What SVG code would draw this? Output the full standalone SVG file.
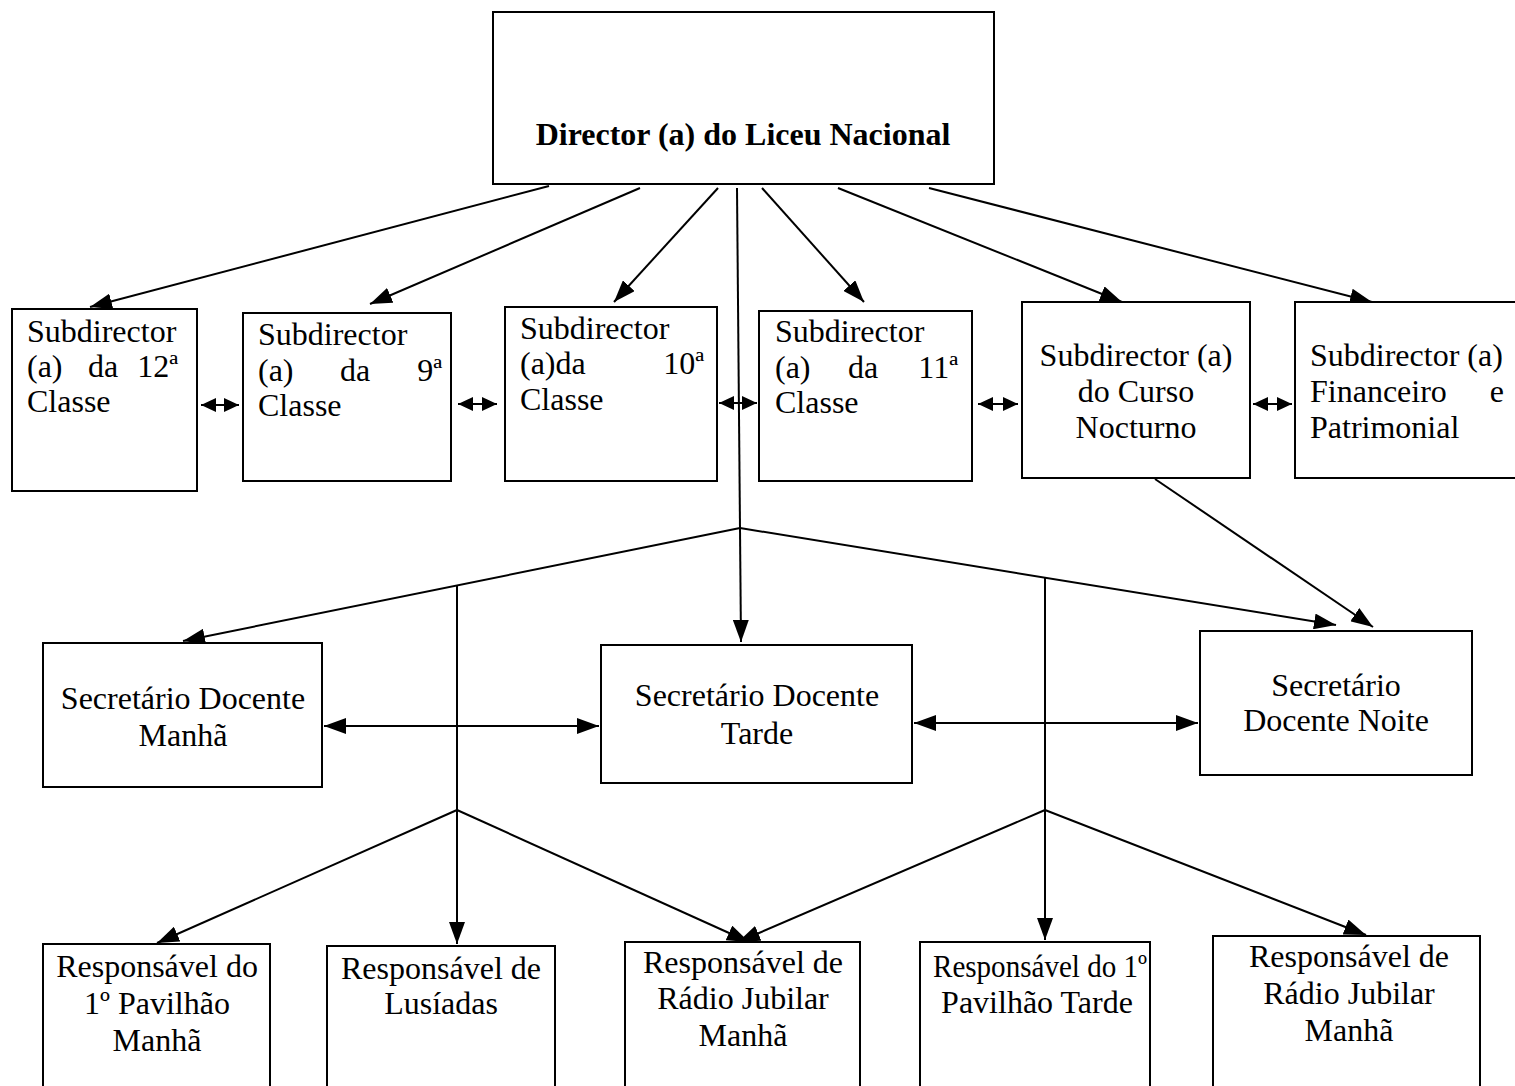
<svg xmlns="http://www.w3.org/2000/svg" width="1515" height="1086" viewBox="0 0 1515 1086">
<style>
.box{fill:#fff;stroke:#000;stroke-width:2}
.t{font-family:'Liberation Serif',Tinos,'Times New Roman',Times,'DejaVu Serif',serif;font-size:32px;fill:#000}
.c{text-anchor:middle}
.e{text-anchor:end}
.b{font-weight:bold}
.ln{fill:none;stroke:#000;stroke-width:2}
</style>
<defs>
<marker id="ah" viewBox="0 0 22 16" refX="22" refY="8" markerWidth="22" markerHeight="16" markerUnits="userSpaceOnUse" orient="auto-start-reverse">
<path d="M0,0 L22,8 L0,16 z" fill="#000"/>
</marker>
<marker id="sh" viewBox="0 0 15 14" refX="15" refY="7" markerWidth="15" markerHeight="14" markerUnits="userSpaceOnUse" orient="auto-start-reverse">
<path d="M0,0 L15,7 L0,14 z" fill="#000"/>
</marker>
</defs>
<rect width="1515" height="1086" fill="#fff"/>

<g id="connectors">
<line class="ln" x1="549" y1="186" x2="90" y2="307" marker-end="url(#ah)"/>
<line class="ln" x1="640" y1="188" x2="370" y2="304" marker-end="url(#ah)"/>
<line class="ln" x1="718" y1="188" x2="614" y2="302" marker-end="url(#ah)"/>
<line class="ln" x1="762" y1="188" x2="864" y2="302" marker-end="url(#ah)"/>
<line class="ln" x1="838" y1="188" x2="1122" y2="302" marker-end="url(#ah)"/>
<line class="ln" x1="929" y1="188" x2="1372" y2="302" marker-end="url(#ah)"/>
<line class="ln" x1="737" y1="188" x2="741" y2="642" marker-end="url(#ah)"/>
<line class="ln" x1="740" y1="528" x2="183" y2="641" marker-end="url(#ah)"/>
<line class="ln" x1="740" y1="528" x2="1336" y2="625" marker-end="url(#ah)"/>
<line class="ln" x1="1155" y1="479" x2="1373" y2="627" marker-end="url(#ah)"/>
<line class="ln" x1="457" y1="585" x2="457" y2="944" marker-end="url(#ah)"/>
<line class="ln" x1="1045" y1="578" x2="1045" y2="940" marker-end="url(#ah)"/>
<line class="ln" x1="457" y1="810" x2="157" y2="943" marker-end="url(#ah)"/>
<line class="ln" x1="457" y1="810" x2="749" y2="942" marker-end="url(#ah)"/>
<line class="ln" x1="1045" y1="810" x2="738" y2="942" marker-end="url(#ah)"/>
<line class="ln" x1="1045" y1="810" x2="1366" y2="935" marker-end="url(#ah)"/>
<line class="ln" x1="324" y1="726" x2="599" y2="726" marker-start="url(#ah)" marker-end="url(#ah)"/>
<line class="ln" x1="914" y1="723" x2="1198" y2="723" marker-start="url(#ah)" marker-end="url(#ah)"/>
<line class="ln" x1="201" y1="405" x2="239" y2="405" marker-start="url(#sh)" marker-end="url(#sh)"/>
<line class="ln" x1="458" y1="404" x2="497" y2="404" marker-start="url(#sh)" marker-end="url(#sh)"/>
<line class="ln" x1="719" y1="403" x2="757" y2="403" marker-start="url(#sh)" marker-end="url(#sh)"/>
<line class="ln" x1="978" y1="404" x2="1018" y2="404" marker-start="url(#sh)" marker-end="url(#sh)"/>
<line class="ln" x1="1253" y1="404" x2="1292" y2="404" marker-start="url(#sh)" marker-end="url(#sh)"/>
</g>

<g id="director">
<rect class="box" x="493" y="12" width="501" height="172"/>
<text class="t c b" x="743" y="145">Director (a) do Liceu Nacional</text>
</g>

<g id="sub12">
<rect class="box" x="12" y="309" width="185" height="182"/>
<text class="t" x="27" y="342">Subdirector</text>
<text class="t" x="27" y="377">(a)</text><text class="t c" x="103" y="377">da</text><text class="t e" x="178" y="377">12ª</text>
<text class="t" x="27" y="412">Classe</text>
</g>
<g id="sub9">
<rect class="box" x="243" y="313" width="208" height="168"/>
<text class="t" x="258" y="345">Subdirector</text>
<text class="t" x="258" y="381">(a)</text><text class="t c" x="355" y="381">da</text><text class="t e" x="442" y="381">9ª</text>
<text class="t" x="258" y="416">Classe</text>
</g>
<g id="sub10">
<rect class="box" x="505" y="307" width="212" height="174"/>
<text class="t" x="520" y="339">Subdirector</text>
<text class="t" x="520" y="374">(a)da</text><text class="t e" x="704" y="374">10ª</text>
<text class="t" x="520" y="410">Classe</text>
</g>
<g id="sub11">
<rect class="box" x="759" y="311" width="213" height="170"/>
<text class="t" x="775" y="342">Subdirector</text>
<text class="t" x="775" y="378">(a)</text><text class="t c" x="863" y="378">da</text><text class="t e" x="958" y="378">11ª</text>
<text class="t" x="775" y="413">Classe</text>
</g>
<g id="subNocturno">
<rect class="box" x="1022" y="302" width="228" height="176"/>
<text class="t c" x="1136" y="366">Subdirector (a)</text>
<text class="t c" x="1136" y="402">do Curso</text>
<text class="t c" x="1136" y="438">Nocturno</text>
</g>
<g id="subFinanceiro">
<rect class="box" x="1295" y="302" width="230" height="176"/>
<text class="t" x="1310" y="366">Subdirector (a)</text>
<text class="t" x="1310" y="402">Financeiro</text><text class="t e" x="1504" y="402">e</text>
<text class="t" x="1310" y="438">Patrimonial</text>
</g>

<g id="secManha">
<rect class="box" x="43" y="643" width="279" height="144"/>
<text class="t c" x="183" y="709">Secretário Docente</text>
<text class="t c" x="183" y="746">Manhã</text>
</g>
<g id="secTarde">
<rect class="box" x="601" y="645" width="311" height="138"/>
<text class="t c" x="757" y="706">Secretário Docente</text>
<text class="t c" x="757" y="744">Tarde</text>
</g>
<g id="secNoite">
<rect class="box" x="1200" y="631" width="272" height="144"/>
<text class="t c" x="1336" y="696">Secretário</text>
<text class="t c" x="1336" y="731">Docente Noite</text>
</g>

<g id="resp1">
<rect class="box" x="43" y="944" width="227" height="160"/>
<text class="t c" x="157" y="977">Responsável do</text>
<text class="t c" x="157" y="1014">1º Pavilhão</text>
<text class="t c" x="157" y="1051">Manhã</text>
</g>
<g id="resp2">
<rect class="box" x="327" y="946" width="228" height="160"/>
<text class="t c" x="441" y="979">Responsável de</text>
<text class="t c" x="441" y="1014">Lusíadas</text>
</g>
<g id="resp3">
<rect class="box" x="625" y="942" width="235" height="160"/>
<text class="t c" x="743" y="973">Responsável de</text>
<text class="t c" x="743" y="1009">Rádio Jubilar</text>
<text class="t c" x="743" y="1046">Manhã</text>
</g>
<g id="resp4">
<rect class="box" x="920" y="942" width="230" height="160"/>
<text class="t" x="933" y="977" textLength="214" lengthAdjust="spacingAndGlyphs">Responsável do 1º</text>
<text class="t c" x="1037" y="1013">Pavilhão Tarde</text>
</g>
<g id="resp5">
<rect class="box" x="1213" y="936" width="267" height="160"/>
<text class="t c" x="1349" y="967">Responsável de</text>
<text class="t c" x="1349" y="1004">Rádio Jubilar</text>
<text class="t c" x="1349" y="1041">Manhã</text>
</g>
</svg>
